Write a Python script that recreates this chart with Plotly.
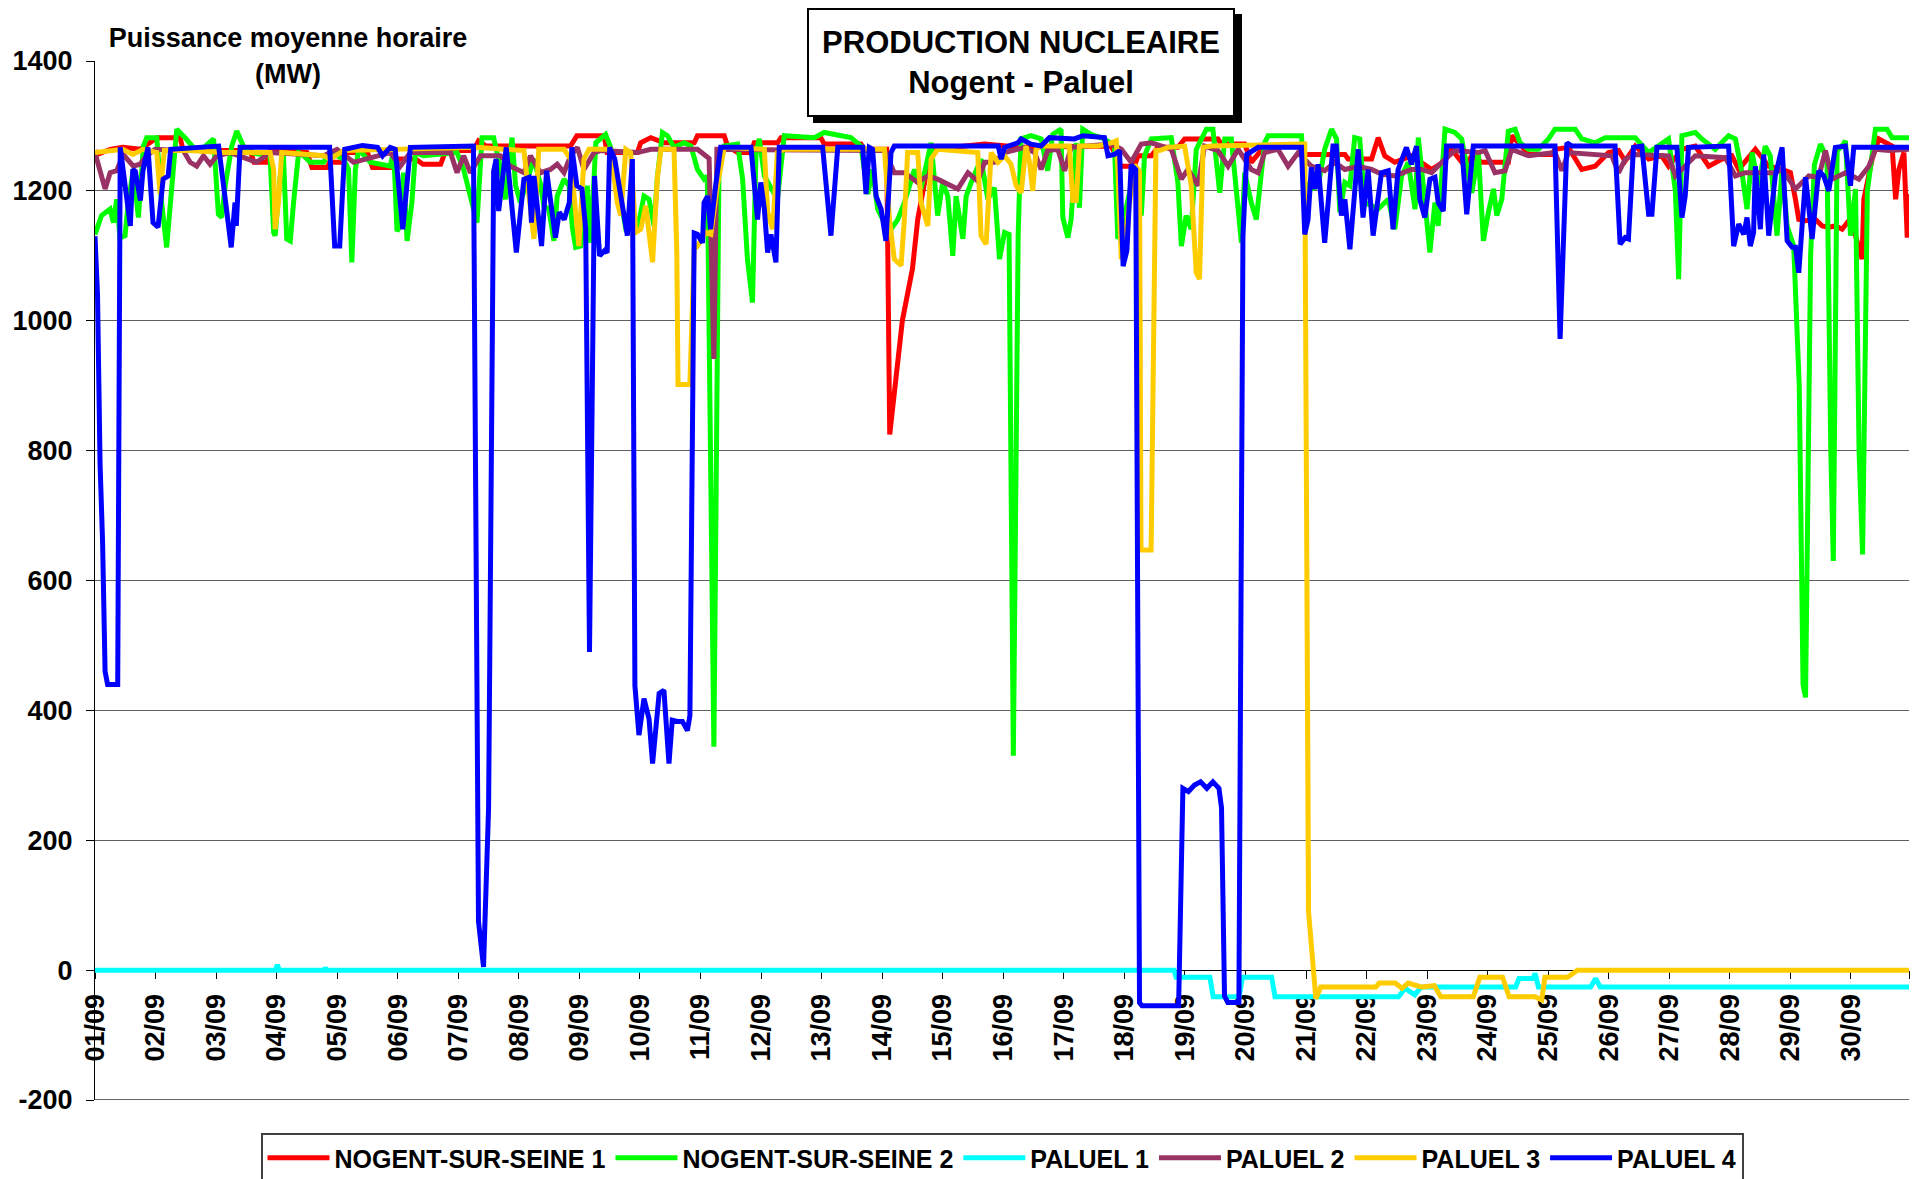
import plotly.graph_objects as go

# ---------------- data (hour index from 01/09 00h, MW) ----------------
day_labels = ["%02d/09" % d for d in range(1, 31)]
series_names = ["NOGENT-SUR-SEINE 1", "NOGENT-SUR-SEINE 2", "PALUEL 1",
                "PALUEL 2", "PALUEL 3", "PALUEL 4"]
series_colors = ["#FF0000", "#00FF00", "#00FFFF", "#993366", "#FFCC00", "#0000FF"]

nog1_h = [0,1,6,11,18,24.5,33.7,35,61.5,63,68,69.4,76,84,86,92,93,98,100,108,110,117,119,127,130,137,139,150,152,155,
          188.5,191,201.8,203,215,216.3,220.3,225.6,237.5,238.8,249.4,250.7,254.7,260,261.3,270.5,271.9,287.7,289,303.6,
          305,313.8,315,317,320,324,326.1,330,332,352.6,367,402.8,406.7,412,413.4,418.7,421.3,429.2,431.9,445.1,446.4,
          455.7,458.3,463.6,478.2,479.5,495.4,496.7,506,508.6,511.2,515.2,521.8,529.8,535.1,537.7,543,545.7,549.6,560.2,
          561.5,565.5,568.2,577.4,578.7,584,589.3,594.6,599.9,603.9,606.5,610.5,615.8,621,623.7,629,634.3,639.6,644.9,
          648.8,651.5,658.1,663.4,668.7,672,674,675.3,678,681.9,684.6,687.2,689.8,692.5,695.1,697.8,700.4,701.1,704.4,
          707,712.3,713.7,715,717,718.3,719]
nog1_mw = [1262,1256,1264,1267,1264,1282,1282,1262,1262,1244,1244,1262,1262,1259,1236,1236,1244,1244,1259,1259,1236,1236,1249,1249,1241,1241,1262,1262,1277,1269,
           1269,1285,1285,1259,1259,1274,1282,1274,1274,1285,1285,1269,1259,1259,1274,1274,1282,1282,1272,1272,
           1264,1264,825,900,1000,1080,1156,1238,1264,1272,1267,1269,1238,1238,1254,1254,1267,1267,1280,1280,1272,
           1272,1244,1269,1269,1256,1256,1249,1249,1282,1254,1244,1254,1233,1246,1264,1238,1254,1244,1244,
           1285,1269,1256,1256,1264,1267,1233,1238,1259,1262,1246,1269,1249,1254,1238,1264,1269,1238,1249,
           1254,1233,1264,1238,1233,1228,1187,1156,1154,1156,1146,1144,1146,1141,1154,1131,1095,1187,1249,
           1280,1269,1187,1233,1259,1128,1195]

nog2_h = [0,2.6,6,7.3,8.6,9.9,11.9,13.2,15.2,17.2,19.2,20.5,24.5,26.4,28.4,31.1,32.4,35.7,39,41.7,47,48.9,50.2,51.6,54.2,
          56.2,58.8,61.5,69.4,70.8,71.4,73.4,74.7,76,77.4,78.7,80.7,82.7,85.3,90.6,93.2,98.5,100.5,101.8,103.2,104.5,
          109.1,117,118.4,119.7,121,122.3,123.7,125.6,127,130.3,143.5,146.1,149.5,151.4,153.4,158,160.7,162.7,165.3,
          166.7,168.6,171.3,173.9,176.6,177.9,179.9,181.9,183.2,185.9,187.9,189.2,190.5,192.5,195.1,196.5,198.5,200.4,
          202.4,204.4,206.4,208.4,210.4,215,217.6,219.6,221.6,222.9,224.9,226.9,229.5,233.5,236.2,238.8,241.4,242.7,
          245.3,247.3,249.4,254.7,256.7,258.6,260.6,262,263.3,265.3,267.9,270.5,273.2,285.1,289,299.6,303.6,306.3,
          308.2,310.2,312.9,315.5,318.2,320.8,324.8,327.4,331.4,334,336,338,340,341.3,344,345.3,347.3,349.3,351.2,
          353.9,356.5,358.5,360.5,362.3,364,365.9,367,371,375,377.6,379.6,382.9,383.6,385.6,386.9,388.9,390.2,391.5,
          394.8,400.1,404.1,405.4,408.1,412,414.7,416,418.7,426.6,429.2,430.6,432.5,434.5,436.5,440.5,443.1,445.8,
          447.8,450.4,454.4,455.7,458.3,460.3,463.6,465,478.2,479.5,482.1,484.8,487.4,490.1,492.1,493.4,495.4,497.4,
          499.3,501.3,503.3,506,508.6,512.6,515.2,517.9,520.5,523.2,524.5,526.5,529.1,531.1,532.4,535.1,539,541.7,
          545.7,548.3,550.3,552.3,554.3,555.6,557.6,560.2,562.9,564.8,568.2,572.1,576.1,578.7,586.7,589.3,594.6,598.6,
          610.5,615.8,623.7,626.4,627.7,629,634.3,636.9,642.2,646.2,647.5,650.2,652.8,654.8,656.8,659.4,662,664,666.7,
          668.7,670.7,673.3,675.5,677,678,680,681.5,683.9,686.5,688,689,690.5,692.5,693.8,695.8,697.8,699.2,700.6,702.5,
          705.7,710.3,712.3,719]
nog2_mw = [1133,1162,1172,1151,1187,1128,1131,1182,1233,1159,1269,1282,1282,1182,1113,1233,1295,1282,1267,1262,1280,1164,1159,1208,1269,
           1292,1269,1259,1254,1136,1131,1223,1254,1126,1123,1182,1259,1254,1244,1244,1259,1249,1233,1090,1233,1264,
           1244,1238,1262,1138,1146,1228,1123,1182,1259,1254,1259,1233,1182,1151,1282,1282,1236,1187,1282,
           1208,1182,1215,1249,1210,1177,1172,1123,1192,1218,1208,1144,1113,1115,1208,1120,1274,1280,
           1287,1267,1208,1187,1141,1141,1192,1187,1146,1221,1290,1285,1267,1274,1269,1233,1218,1223,
           344,1230,1269,1272,1218,1095,1028,1259,1280,1223,1203,1187,1285,1282,1290,1282,1269,1195,
           1233,1172,1151,1141,1156,1182,1233,1203,1274,1162,1213,1192,1100,1192,1126,1192,1213,1233,1249,
           1187,1205,1095,1136,1133,330,1130,1280,1285,1280,1231,1287,1295,1159,1128,1156,1274,1174,1295,
           1287,1280,1269,1126,1162,1233,1162,1254,1280,1282,1213,1115,1162,1141,1264,1295,1295,1197,
           1280,1280,1120,1228,1182,1156,1274,1285,1285,1213,1203,1208,1264,1295,1280,1167,1213,1208,
           1282,1280,1182,1177,1172,1187,1141,1223,1244,1172,1282,1208,1105,1182,1146,1295,1290,1280,
           1197,1259,1123,1167,1203,1162,1187,1292,1295,1274,1264,1264,1280,1295,1295,1280,1274,1282,
           1282,1259,1280,1200,1064,1285,1290,1280,1264,1280,1285,1280,1228,1172,1259,1208,1269,1254,1131,
           1233,1146,1115,900,440,420,1100,1240,1272,1250,800,630,1262,1269,1277,1131,1203,800,640,1200,
           1295,1295,1282,1282]

pal1_h = [0,71.5,72.3,73,91,91.3,91.8,427.7,428.5,441.9,443.2,453.5,454.8,466.4,467.7,516.7,519.3,523.1,525.7,
          563.1,564.4,570,570.8,572.1,592.8,594.8,596.6,719]
pal1_mw = [0,0,8,0,0,4,0,0,-11,-11,-41,-41,-11,-11,-41,-41,-28,-38,-26,
           -26,-13,-13,-5,-26,-26,-13,-26,-26]

pal2_h = [0,2,4,6,8.6,11.2,15.2,17.8,20.5,23.8,35,37.7,40.3,43,45.6,48.3,53.6,64.1,69.4,90.6,95.9,102.5,117,121,125,
          140.9,143.5,146.1,148.8,152.8,160.7,164.7,170,172.6,176.6,180.5,183.2,185.9,188.5,191.2,193.8,197.8,200.4,
          215,220.3,238.8,243.4,245.3,246.5,312.9,316.8,320.8,326.1,330.1,334,339.3,342,346,349.9,352.6,356.5,360.5,
          368.4,372.4,375,377.6,381.6,384.3,386.9,402.8,406.8,410.7,414.7,418.7,422.6,426.6,430.6,433.2,437.2,439.8,
          445.1,449.1,453.1,458.3,461,463.6,468.9,472.9,476.9,482.1,487.4,491.4,495.4,500.7,506,509.9,515.2,521.8,
          525.8,529.8,535.1,539,548.3,551,554.9,558.9,561.5,568.2,578.7,581.4,584,601.2,603.9,606.5,610.5,623.7,626.4,
          634.3,646.2,650.2,654.1,666,668.7,674,679.3,683.2,685.9,688.5,693.8,699.1,703.1,705.7,711,719]
pal2_mw = [1259,1233,1203,1228,1231,1256,1238,1241,1254,1264,1262,1244,1238,1254,1241,1254,1259,1244,1259,1254,1264,1244,1259,1238,1259,
           1259,1228,1254,1228,1254,1254,1238,1228,1254,1228,1233,1241,1228,1254,1267,1233,1259,1262,
           1259,1264,1264,1250,941,1264,1262,1228,1228,1213,1223,1218,1208,1203,1228,1215,1244,1244,1259,
           1267,1259,1233,1262,1264,1231,1267,1272,1264,1244,1272,1274,1269,1264,1218,1233,1208,1269,
           1262,1238,1264,1233,1228,1259,1264,1238,1259,1238,1231,1244,1233,1238,1233,1226,1223,1233,
           1233,1228,1249,1262,1259,1262,1228,1231,1264,1254,1259,1231,1259,1254,1228,1249,1256,1254,1223,
           1254,1251,1223,1228,1228,1233,1203,1223,1221,1262,1218,1228,1218,1238,1264,1262,1264]

pal3_h = [0,6,11,15,19,24.5,25.8,27.5,37.7,51,69.4,70.8,71.4,72.7,74,90.6,93.2,98.5,151.4,170,172.6,174,175.9,185.9,
          188.5,190.5,191.8,193.8,195.8,204.4,207,208.4,210.4,212.3,214.3,216.3,218.3,221,222.9,224.3,229.5,230.6,
          231.1,235.8,237.5,238.8,242.1,244.1,246.7,249.4,265.3,266.6,268.6,270.5,273.2,312.9,314.9,316.8,319.5,
          320.8,322.1,326.1,327.4,330.1,331.4,334,349.9,351.2,353.2,355.2,357.9,360.5,363.1,365.1,367.1,369,370.4,
          371.7,373,375,386.2,387.6,388.9,390.2,397.5,402.8,404.8,405.4,406.8,409,412,414,414.6,418.6,420.5,422,
          425.3,431.9,434.5,436.5,437.8,439.2,442.5,478.2,479.5,481,483.9,485.8,507.7,509,515.4,518,520.5,525.7,
          530.9,533.4,546.3,548.9,557.9,560.5,570.8,573.4,574.7,583.7,587.6,719]
pal3_mw = [1259,1262,1264,1256,1264,1259,1195,1262,1262,1259,1259,1233,1141,1182,1259,1254,1249,1262,1267,1262,1172,1126,1264,1264,
           1249,1167,1115,1249,1264,1264,1182,1162,1264,1259,1136,1141,1177,1090,1221,1264,1264,1105,
           902,902,1110,1115,1136,1133,1208,1267,1264,1167,1141,1259,1264,1264,1156,1095,1085,
           1156,1259,1259,1182,1146,1249,1264,1259,1131,1118,1259,1244,1254,1241,1208,1197,1269,1244,
           1200,1264,1269,1269,1185,1185,1269,1269,1274,1277,1238,1095,1150,1240,1230,647,647,1262,1262,
           1267,1269,1208,1074,1064,1267,1269,1272,1272,90,-44,-26,-26,-20,-20,-28,-20,-26,
           -24,-41,-41,-11,-11,-41,-41,-46,-11,-11,0,0]

pal4_h = [0,1,2,3,4,5,9,10,14,15,16,18,19,21,23,25,27,29,30,49,54,55.5,56,57.5,93,95,97,99,106,112,114,117,119,122,125,
          150,152,154,156,158,159,160,163,167,170,172,173,174,177,179,182.5,184,186,188,189,191,193,194.5,196,198,200,
          202,203,204,206,208,211,213,214,215.6,217.6,219.6,221,223.6,225.5,227.5,228.8,230.8,232.8,234.8,235.8,237.5,
          238.8,240.8,241.4,242.8,244,246,248,260,261.3,262.6,263.9,265.3,266.6,267.9,269.9,271.2,288.4,291.7,294.4,
          304.3,305.6,306.9,308.2,309.6,311.6,313.5,315.5,316.8,358,359.2,360.5,365.8,367.1,371,375,378.3,388.2,391.5,
          400.1,401.5,404.1,406.1,407.5,409,410.7,412.5,414,415,429.5,431.2,433.4,435.8,438.2,440.7,443.1,445.5,446.5,
          447.7,449,453.4,455,456.5,461,478.2,479.5,480.8,482.1,483.5,484.8,487.4,490.7,492,494,495.4,497.4,500.7,
          502.6,504.6,506.6,509.9,512.6,514.5,516.5,518.5,519.8,521.8,523.8,525.1,527.1,529.1,531.1,532.4,534.4,535.7,
          541.7,543.7,546.3,578.7,580.7,583.4,585.4,602.5,604.5,606.5,607.8,609.8,613.1,615.8,617.1,619.1,627,629,
          630.3,631.6,647.5,649.5,651.5,653.5,654.8,656.1,657.4,658.1,660.1,661.4,663.4,666,668.7,670.7,672.7,674,
          675.3,678,680.6,683.2,685.2,687.2,689.8,693.8,695.8,697.1,719]
pal4_mw = [1130,1040,780,660,460,440,440,1267,1146,1233,1230,1185,1231,1267,1151,1144,1218,1223,1264,1269,1113,1182,1146,1267,1267,1115,1115,1264,1270,1267,1254,1267,1264,1141,1267,
           1269,75,5,250,1230,1249,1169,1267,1105,1218,1221,1151,1223,1115,1231,1128,1167,1156,1182,1267,1208,1203,1141,490,1223,1100,
           1108,1105,1267,1249,1197,1131,1249,438,362,418,387,318,426,431,318,385,383,383,369,392,1135,
           1133,1120,1182,1192,1141,1208,1267,1267,1208,1156,1213,1172,1105,1133,1090,1267,1267,1131,1267,
           1267,1195,1267,1264,1192,1172,1123,1259,1269,1269,1249,1267,1274,1280,1272,1269,1282,1280,1285,
           1282,1254,1256,1262,1084,1108,1240,1233,-50,-55,-55,280,275,285,290,280,290,280,250,
           -40,-50,-50,1130,1256,1267,1267,1133,1156,1236,1203,1241,1120,1269,1269,1162,1187,1110,1264,
           1159,1233,1131,1228,1231,1141,1233,1254,1267,1241,1269,1187,1159,1218,1221,1182,1169,1269,
           1269,1164,1269,1269,972,1274,1269,1269,1118,1128,1126,1267,1269,1164,1164,1267,1267,1159,
           1192,1267,1269,1115,1149,1133,1159,1115,1136,1238,1141,1256,1131,1223,1267,1123,1113,1113,
           1074,1221,1126,1231,1223,1200,1267,1269,1208,1267,1267]

xs = [nog1_h, nog2_h, pal1_h, pal2_h, pal3_h, pal4_h]
ys = [nog1_mw, nog2_mw, pal1_mw, pal2_mw, pal3_mw, pal4_mw]

# ---------------- layout geometry (pixels) ----------------
W, H = 1919, 1179
L, R, T, B = 95, 10, 61, 79
PW, PH = W - L - R, H - T - B


def px_x(px):
    return (px - L) / PW


def px_y(py):
    return (H - B - py) / PH


FONT = "Liberation Sans, Arial, sans-serif"

fig = go.Figure()
for name, col, x, y in zip(series_names, series_colors, xs, ys):
    fig.add_trace(go.Scatter(x=x, y=y, mode="lines", name=name,
                             line=dict(color=col, width=5), hoverinfo="skip"))

tickvals = [24 * i for i in range(30)] + [719]
ticktext = day_labels + [""]

fig.update_layout(
    width=W, height=H,
    margin=dict(l=L, r=R, t=T, b=B, autoexpand=False),
    plot_bgcolor="white", paper_bgcolor="white",
    font=dict(family=FONT, color="black"),
    xaxis=dict(range=[0, 719], tickmode="array", tickvals=tickvals, ticktext=ticktext,
               tickangle=-90, anchor="free", position=0.125, showline=True,
               linecolor="black", linewidth=1, ticks="outside", ticklen=8,
               tickcolor="black", showgrid=False, zeroline=False, layer="below traces",
               tickfont=dict(family=FONT, size=27, color="black", weight="bold"),
               ticklabelstandoff=4),
    yaxis=dict(range=[-200, 1400], tickmode="array",
               tickvals=[-200, 0, 200, 400, 600, 800, 1000, 1200, 1400],
               ticktext=["-200", "0", "200", "400", "600", "800", "1000", "1200", "1400"],
               showline=True, linecolor="black", linewidth=1, ticks="outside",
               ticklen=8, tickcolor="black", showgrid=True, gridcolor="#606060",
               gridwidth=1, zeroline=False, layer="below traces",
               tickfont=dict(family=FONT, size=27, color="black", weight="bold"),
               ticklabelstandoff=8),
    legend=dict(orientation="h", x=0.5, xanchor="center", y=px_y(1133), yanchor="top",
                bgcolor="white", bordercolor="#404040", borderwidth=2,
                font=dict(family=FONT, size=25, color="black", weight="bold"),
                itemwidth=62, tracegroupgap=0),
    showlegend=True,
)

# bottom boundary line at -200
fig.add_shape(type="line", xref="paper", yref="y", x0=0, x1=1, y0=-200, y1=-200,
              line=dict(color="#303030", width=1.5), layer="below")

# title shadow + box
fig.add_shape(type="rect", xref="paper", yref="paper",
              x0=px_x(813), x1=px_x(1242), y0=px_y(123), y1=px_y(14),
              fillcolor="black", line=dict(width=0), layer="above")
fig.add_annotation(xref="paper", yref="paper", x=px_x(1021), y=px_y(63),
                   xanchor="center", yanchor="middle", showarrow=False,
                   text="PRODUCTION NUCLEAIRE<br>Nogent - Paluel",
                   font=dict(family=FONT, size=31, color="black", weight="bold"),
                   width=424, height=105, bgcolor="white", bordercolor="black",
                   borderwidth=2, borderpad=0, align="center", valign="middle")
# y-axis title
fig.add_annotation(xref="paper", yref="paper", x=px_x(288), y=px_y(56),
                   xanchor="center", yanchor="middle", showarrow=False,
                   text="Puissance moyenne horaire<br>(MW)",
                   font=dict(family=FONT, size=27, color="black", weight="bold"),
                   width=376, height=76, bgcolor="white", borderpad=0,
                   align="center", valign="middle")

fig.write_html("out.html", config={"displayModeBar": False},
               post_script="document.body.style.margin='0';document.body.style.overflow='hidden';")
